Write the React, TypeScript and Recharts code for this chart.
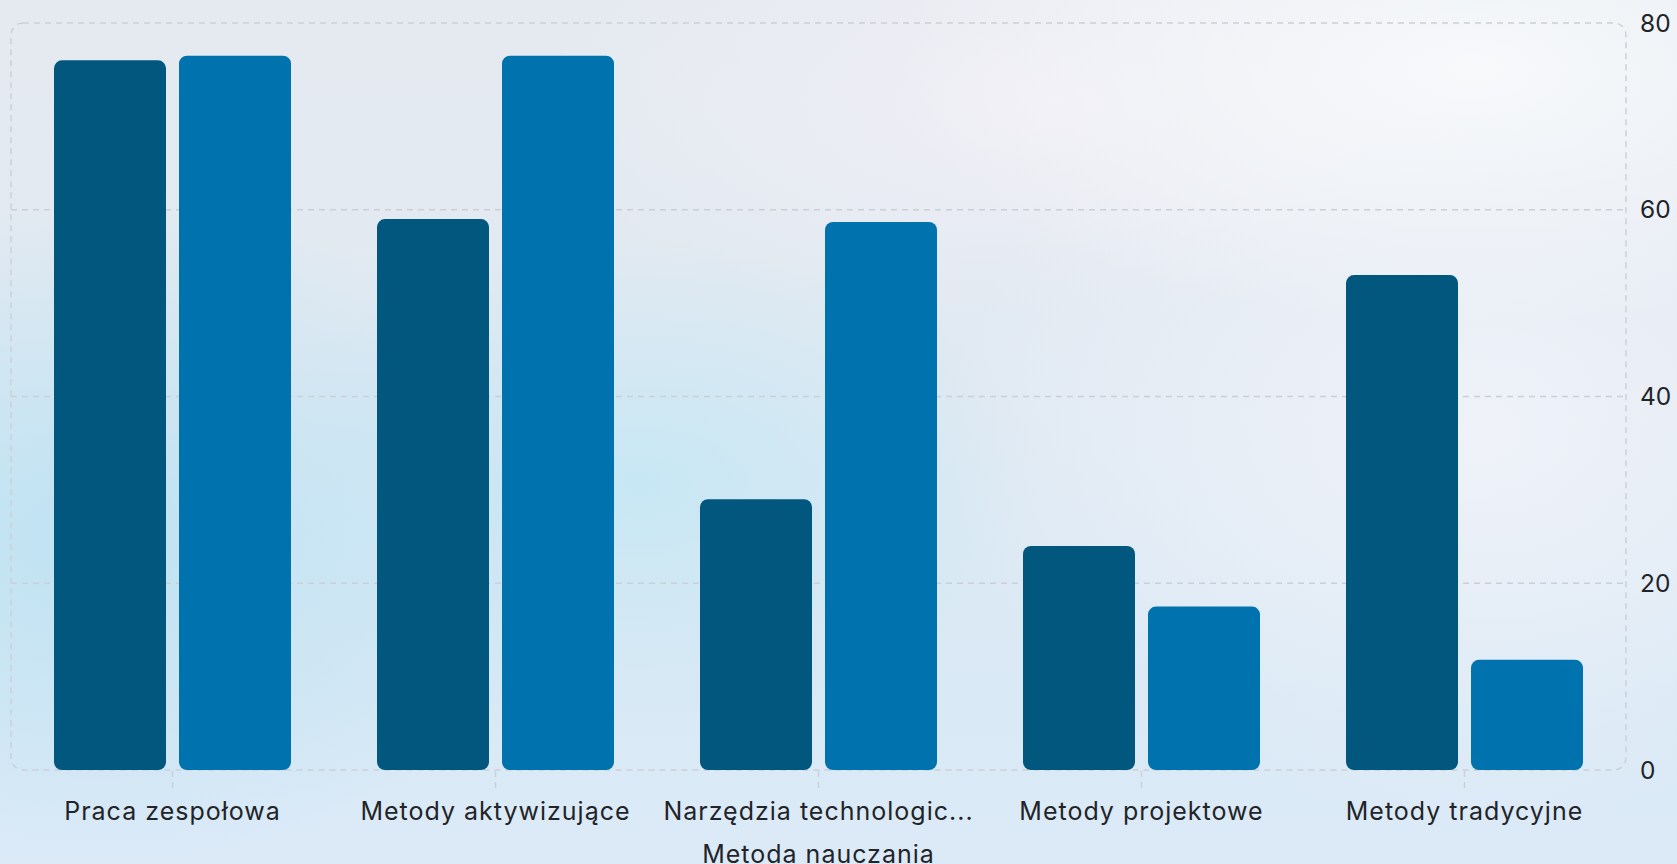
import React from 'react';
import { BarChart, Bar, XAxis, YAxis, CartesianGrid, ReferenceArea, Label } from 'recharts';

// Teaching methods compared across two groups of respondents
const categories = [
  'Praca zespołowa',
  'Metody aktywizujące',
  'Narzędzia technologiczne',
  'Metody projektowe',
  'Metody tradycyjne',
];
const groupA = [76, 59, 29, 24, 53];
const groupB = [76.5, 76.5, 58.7, 17.5, 11.8];
const yTicks = [0, 20, 40, 60, 80];
const xAxisTitle = 'Metoda nauczania';

const data = categories.map((name, i) => ({ name, groupA: groupA[i], groupB: groupB[i] }));

const W = 1677;
const H = 864;
const GRID = '#cbcfd6';
const TEXT = '#222428';

const shorten = (label: string) => (label.length > 22 ? label.slice(0, 21) + '...' : label);

const PlotFrame = (p: any) => (
  <rect
    x={p.x}
    y={p.y}
    width={p.width}
    height={p.height}
    rx={12}
    ry={12}
    fill="none"
    stroke={GRID}
    strokeWidth={1.4}
    strokeDasharray="6 5"
  />
);

export default function App() {
  return (
    <div
      style={{
        position: 'absolute',
        left: 0,
        top: 0,
        width: W,
        height: H,
        overflow: 'hidden',
        fontFamily: 'Inter, "Noto Sans", sans-serif',
        background: [
          'radial-gradient(ellipse 30% 38% at 6% 62%, rgba(190,226,243,1) 0%, rgba(190,226,243,0) 100%)',
          'radial-gradient(ellipse 24% 28% at 38% 56%, rgba(198,231,244,0.95) 0%, rgba(198,231,244,0) 100%)',
          'radial-gradient(ellipse 35% 30% at 88% 8%, rgba(247,249,251,1) 0%, rgba(247,249,251,0) 100%)',
          'radial-gradient(ellipse 30% 25% at 62% 12%, rgba(241,239,246,0.9) 0%, rgba(241,239,246,0) 100%)',
          'radial-gradient(ellipse 32% 45% at 88% 50%, rgba(239,242,249,1) 0%, rgba(239,242,249,0) 100%)',
          'linear-gradient(180deg, #e5eaf0 0%, #e0e9f2 45%, #d9e9f5 80%, #dceaf8 100%)',
        ].join(', '),
      }}
    >
      <BarChart
        width={W}
        height={H}
        data={data}
        margin={{ top: 23, right: 0, left: 11, bottom: 0 }}
        barCategoryGap={43}
        barGap={13}
      >
        <CartesianGrid
          vertical={false}
          horizontalValues={[20, 40, 60]}
          stroke={GRID}
          strokeWidth={1.4}
          strokeDasharray="6 5"
        />
        <ReferenceArea y1={0} y2={80} shape={PlotFrame} ifOverflow="visible" />
        <XAxis
          dataKey="name"
          interval={0}
          axisLine={false}
          tickLine={{ stroke: GRID, strokeWidth: 1.4, strokeDasharray: '6 5' }}
          tickSize={18}
          tickMargin={14}
          height={94}
          tickFormatter={shorten}
          tick={{ fontSize: 25, fill: TEXT, letterSpacing: 1 }}
        >
          <Label
            value={xAxisTitle}
            position="insideBottom"
            offset={1}
            style={{ fontSize: 25, fill: TEXT, letterSpacing: 1 }}
          />
        </XAxis>
        <YAxis
          orientation="right"
          width={51}
          domain={[0, 80]}
          ticks={yTicks}
          axisLine={false}
          tickLine={false}
          tickSize={6}
          tickMargin={8}
          tick={{ fontSize: 24.5, fill: TEXT }}
        />
        <Bar dataKey="groupA" fill="#01577e" radius={8} isAnimationActive={false} />
        <Bar dataKey="groupB" fill="#0072ae" radius={8} isAnimationActive={false} />
      </BarChart>
    </div>
  );
}
